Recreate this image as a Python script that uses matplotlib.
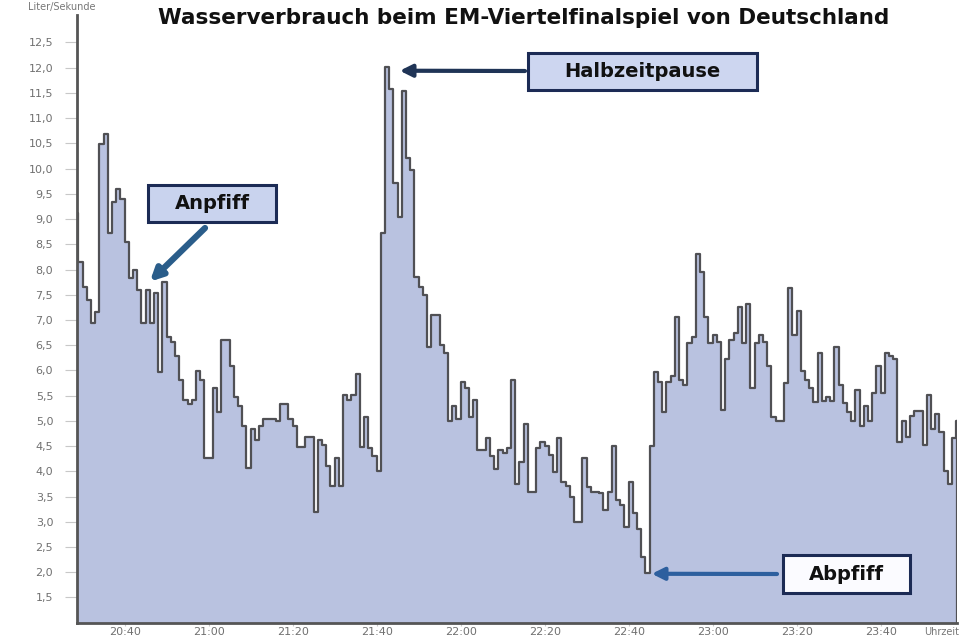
import numpy as np
import matplotlib
matplotlib.use("Agg")
import matplotlib.pyplot as plt
from matplotlib.patches import Rectangle

# ---- data (minutes after 20:00, 1-minute samples starting 20:28) ----
start_minute = 28
flow = [
    9.13, 8.14, 7.66, 7.4, 6.95, 7.15, 10.48, 10.68, 8.73, 9.33,
    9.6, 9.4, 8.54, 7.84, 8.0, 7.6, 6.95, 7.6, 6.95, 7.54,
    5.96, 7.76, 6.67, 6.57, 6.28, 5.82, 5.42, 5.33, 5.42, 5.98,
    5.82, 4.27, 4.27, 5.66, 5.17, 6.61, 6.61, 6.08, 5.48, 5.29,
    4.89, 4.07, 4.83, 4.63, 4.89, 5.03, 5.03, 5.03, 5.0, 5.33,
    5.33, 5.03, 4.9, 4.49, 4.49, 4.69, 4.69, 3.2, 4.63, 4.53,
    4.1, 3.7, 4.27, 3.7, 5.52, 5.42, 5.52, 5.92, 4.49, 5.07,
    4.47, 4.3, 4.0, 8.73, 12.02, 11.57, 9.72, 9.05, 11.53, 10.22,
    9.98, 7.86, 7.66, 7.5, 6.47, 7.1, 7.1, 6.51, 6.35, 4.99,
    5.29, 5.03, 5.78, 5.66, 5.07, 5.42, 4.43, 4.43, 4.67, 4.3,
    4.04, 4.43, 4.37, 4.47, 5.82, 3.74, 4.18, 4.93, 3.6, 3.6,
    4.47, 4.59, 4.5, 4.33, 3.98, 4.67, 3.78, 3.7, 3.5, 3.0,
    3.0, 4.27, 3.68, 3.6, 3.6, 3.58, 3.24, 3.6, 4.5, 3.44,
    3.34, 2.89, 3.78, 3.18, 2.85, 2.31, 1.99, 4.5, 5.96, 5.78,
    5.17, 5.78, 5.88, 7.05, 5.82, 5.72, 6.55, 6.67, 8.3, 7.96,
    7.05, 6.55, 6.71, 6.57, 5.22, 6.22, 6.61, 6.75, 7.25, 6.55,
    7.31, 5.66, 6.55, 6.71, 6.57, 6.08, 5.07, 4.99, 4.99, 5.76,
    7.64, 6.71, 7.17, 5.98, 5.82, 5.66, 5.38, 6.35, 5.4, 5.48,
    5.4, 6.47, 5.72, 5.36, 5.17, 4.99, 5.62, 4.89, 5.29, 4.99,
    5.55, 6.08, 5.56, 6.35, 6.28, 6.22, 4.59, 4.99, 4.69, 5.09,
    5.19, 5.19, 4.53, 5.52, 4.83, 5.13, 4.77, 4.0, 3.74, 4.67,
    4.99,
]
tick_minutes = [40, 60, 80, 100, 120, 140, 160, 180, 200, 220]
y_ticks = [1.5 + 0.5 * i for i in range(23)]
title = "Wasserverbrauch beim EM-Viertelfinalspiel von Deutschland"
y_unit = "Liter/Sekunde"
x_unit = "Uhrzeit"
events = ["Anpfiff", "Halbzeitpause", "Abpfiff"]
event_minute = [46.0, 105.5, 165.5]
event_value = [7.76, 11.94, 1.97]

# ---- figure ----
x_left, x_right = 28.6, 238.2
y_bottom, y_top = 1.0, 13.05

fig = plt.figure(figsize=(9.6, 6.4), dpi=100)
ax = fig.add_axes([0.080, 0.027, 0.917, 0.950])

vals = np.array(flow)
times = start_minute + np.arange(len(vals))
edges = np.append(times, x_right)
ext = np.append(vals, vals[-1])

ax.fill_between(edges, ext, y_bottom, step="post", color="#B9C2E0", lw=0, zorder=1)
ax.step(edges, ext, where="post", color="#505054", lw=1.6, zorder=2)
ax.plot([x_right, x_right], [vals[-1], y_bottom], color="#505054", lw=1.6, zorder=2)

ax.set_xlim(x_left, x_right)
ax.set_ylim(y_bottom, y_top)

for s in ["top", "right"]:
    ax.spines[s].set_visible(False)
for s in ["left", "bottom"]:
    ax.spines[s].set_color("#555555")
    ax.spines[s].set_linewidth(2)
    ax.spines[s].set_zorder(3)

ax.set_yticks(y_ticks)
ax.set_yticklabels([f"{v:.1f}".replace(".", ",") for v in y_ticks])
ax.set_xticks(tick_minutes)
ax.set_xticklabels([f"{20 + m // 60}:{m % 60:02d}" for m in tick_minutes])
ax.tick_params(axis="y", length=9, width=0.8, color="#c8c8c8", labelsize=8,
               labelcolor="#707070", pad=8)
ax.tick_params(axis="x", length=2, width=0.8, color="#c8c8c8", labelsize=8,
               labelcolor="#707070", pad=1)

fig.text(0.029, 0.989, y_unit, fontsize=7, color="#777777", ha="left", va="center")
fig.text(0.999, 0.0125, x_unit, fontsize=7, color="#777777", ha="right", va="center")
fig.text(0.545, 0.972, title, fontsize=15.5, fontweight="heavy", color="#111111",
         ha="center", va="center")

# ---- annotation boxes and arrows ----
boxes = [
    (148, 185, 276, 222, "#c9d3ee"),
    (528, 53, 757, 90, "#cdd6f0"),
    (783, 555, 910, 593, "#fbfbff"),
]
tails = [(205, 228), (525, 71), (777, 574)]
arrow_colors = ["#2a5d8a", "#1f3456", "#2d5f9e"]
arrow_lw = [4.5, 3, 3]
W, H = 960.0, 640.0
for (x0, y0, x1, y1, fc), label, tail, tm, tv, ac, lw in zip(
        boxes, events, tails, event_minute, event_value, arrow_colors, arrow_lw):
    rect = Rectangle((x0 / W, 1 - y1 / H), (x1 - x0) / W, (y1 - y0) / H,
                     transform=fig.transFigure, facecolor=fc, edgecolor="#1c2b55",
                     lw=2.2, zorder=5)
    fig.add_artist(rect)
    fig.text((x0 + x1) / 2 / W, 1 - (y0 + y1) / 2 / H, label, fontsize=14,
             fontweight="bold", color="#111111", ha="center", va="center", zorder=6)
    ax.annotate("", xy=(tm, tv), xycoords="data",
                xytext=(tail[0] / W, 1 - tail[1] / H), textcoords="figure fraction",
                arrowprops=dict(arrowstyle="-|>", color=ac, lw=lw, mutation_scale=18,
                                shrinkA=0, shrinkB=0), zorder=6)

fig.savefig("out.png", dpi=100)
